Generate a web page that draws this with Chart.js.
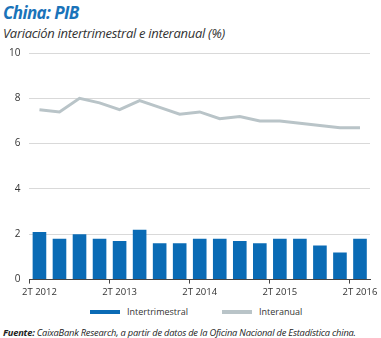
<!DOCTYPE html>
<html lang="es">
<head>
<meta charset="UTF-8">
<title>China: PIB</title>
<style>
    body { margin: 0; width: 381px; height: 338px; position: relative; background: #fff; font-family: "Open Sans", Arial, sans-serif; overflow: hidden; }
    #titulo { position: absolute; left: 3px; top: 1px; font-size: 17px; font-weight: bold; font-style: italic; color: #1a73b9; letter-spacing: -0.6px; }
    #subtitulo { position: absolute; left: 3px; top: 24px; font-size: 13px; font-style: italic; color: #333; letter-spacing: -0.3px; }
    #contenedor { position: absolute; left: 0; top: 38px; width: 381px; height: 263px; }
    #leyenda { position: absolute; top: 305px; left: 0; width: 381px; font-size: 9px; color: #333; }
    .item { position: absolute; top: 0; display: flex; align-items: center; }
    .muestra { width: 30px; height: 4px; margin-right: 7px; }
    #fuente { position: absolute; left: 3px; top: 326px; font-size: 9.3px; font-style: italic; color: #222; letter-spacing: -0.2px; white-space: nowrap; }
</style>
</head>
<body>
<div id="titulo">China: PIB</div>
<div id="subtitulo">Variación intertrimestral e interanual (%)</div>
<div id="contenedor"><canvas id="grafico"></canvas></div>
<div id="leyenda"></div>
<div id="fuente"><b>Fuente:</b> CaixaBank Research, a partir de datos de la Oficina Nacional de Estadística china.</div>

<script src="https://cdn.jsdelivr.net/npm/chart.js"></script>
<script>
    // Trimestres de 2T 2012 a 2T 2016
    const trimestres = ['2T 2012', '3T 2012', '4T 2012', '1T 2013', '2T 2013', '3T 2013', '4T 2013', '1T 2014',
        '2T 2014', '3T 2014', '4T 2014', '1T 2015', '2T 2015', '3T 2015', '4T 2015', '1T 2016', '2T 2016'];
    const intertrimestral = [2.1, 1.8, 2.0, 1.8, 1.7, 2.2, 1.6, 1.6, 1.8, 1.8, 1.7, 1.6, 1.8, 1.8, 1.5, 1.2, 1.8];
    const interanual = [7.5, 7.4, 8.0, 7.8, 7.5, 7.9, 7.6, 7.3, 7.4, 7.1, 7.2, 7.0, 7.0, 6.9, 6.8, 6.7, 6.7];
    const ticksY = [0, 2, 4, 6, 8, 10];

    const AZUL = '#0a6bb5';
    const GRIS = '#b9c4c8';

    const ctx = document.getElementById('grafico').getContext('2d');
    const grafico = new Chart(ctx, {
        type: 'bar',
        data: {
            labels: trimestres,
            datasets: [
                {
                    type: 'line',
                    label: 'Interanual',
                    data: interanual,
                    borderColor: GRIS,
                    backgroundColor: GRIS,
                    borderWidth: 3,
                    pointRadius: 0,
                    tension: 0,
                    order: 0
                },
                {
                    label: 'Intertrimestral',
                    data: intertrimestral,
                    backgroundColor: AZUL,
                    categoryPercentage: 1,
                    barPercentage: 0.68,
                    order: 1
                }
            ]
        },
        options: {
            responsive: true,
            maintainAspectRatio: false,
            animation: false,
            layout: { padding: { top: 5, bottom: 0, left: 0, right: 11 } },
            plugins: {
                legend: { display: false },
                tooltip: { enabled: false }
            },
            scales: {
                x: {
                    grid: {
                        offset: true,
                        drawOnChartArea: false,
                        tickLength: 4,
                        color: (c) => (c.index % 4 === 0 ? '#444' : 'rgba(0,0,0,0)')
                    },
                    border: { color: '#444', width: 1 },
                    ticks: {
                        autoSkip: false,
                        maxRotation: 0,
                        padding: 3,
                        color: '#333',
                        font: { family: 'Open Sans', size: 9.5 },
                        callback: function (v, i) { return i % 4 === 0 ? trimestres[i] : ''; }
                    }
                },
                y: {
                    min: 0,
                    max: 10,
                    afterBuildTicks: (ax) => { ax.ticks = ticksY.map(v => ({ value: v })); },
                    grid: { color: '#d9d9d9', drawTicks: false },
                    border: { display: false },
                    ticks: {
                        padding: 9,
                        color: '#333',
                        font: { family: 'Open Sans', size: 10 }
                    }
                }
            }
        }
    });

    // Leyenda
    const leyenda = document.getElementById('leyenda');
    const items = [
        { texto: 'Intertrimestral', color: AZUL, x: 90 },
        { texto: 'Interanual', color: GRIS, x: 222 }
    ];
    items.forEach(it => {
        const d = document.createElement('div');
        d.className = 'item';
        d.style.left = it.x + 'px';
        d.innerHTML = '<span class="muestra" style="background:' + it.color + '"></span>' + it.texto;
        leyenda.appendChild(d);
    });
</script>
</body>
</html>
